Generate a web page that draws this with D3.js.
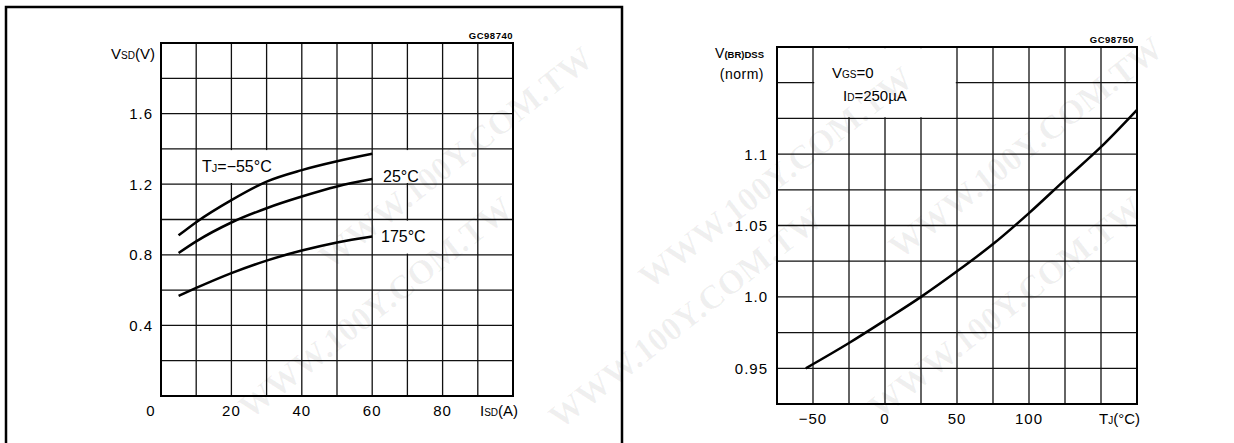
<!DOCTYPE html>
<html>
<head>
<meta charset="utf-8">
<script src="https://cdn.jsdelivr.net/npm/d3@7"></script>
<style>
  html, body { margin: 0; padding: 0; background: #fff; }
  svg { display: block; }
  text { font-family: "Liberation Sans", Arial, sans-serif; fill: #000; }
</style>
</head>
<body>
<script>
// ---- data ----
// left: source-drain diode forward voltage vs current
const isd = [5, 10, 20, 30, 40, 50, 60];
const vsdMinus55 = [0.91, 0.985, 1.11, 1.215, 1.28, 1.33, 1.372];
const vsd25 = [0.81, 0.876, 0.983, 1.064, 1.13, 1.187, 1.229];
const vsd175 = [0.567, 0.612, 0.696, 0.767, 0.824, 0.87, 0.904];
const leftXTicks = [0, 20, 40, 60, 80];
const leftYTicks = [0.4, 0.8, 1.2, 1.6];

// right: normalized breakdown voltage vs temperature
const tj = [-55, -25, 0, 25, 50, 75, 100, 125, 150, 175];
const vbrNorm = [0.95, 0.9677, 0.9836, 1.0, 1.0179, 1.037, 1.0587, 1.082, 1.105, 1.131];
const rightXTicks = [-50, 0, 50, 100];
const rightYTicks = [0.95, 1.0, 1.05, 1.1];

const W = 1234, H = 443;
const svg = d3.select('body').append('svg')
  .attr('width', W).attr('height', H)
  .attr('viewBox', `0 0 ${W} ${H}`);
svg.append('rect').attr('width', W).attr('height', H).attr('fill', '#fff');

// left panel border
svg.append('path').attr('d', 'M6,450 V7 H622 V450')
  .attr('fill', 'none').attr('stroke', '#000').attr('stroke-width', 2.5);

function grid(g, x, y, xs, ys) {
  g.selectAll('line.v').data(xs).join('line').attr('class', 'v')
    .attr('x1', d => x(d)).attr('x2', d => x(d))
    .attr('y1', y.range()[0]).attr('y2', y.range()[1])
    .attr('stroke', '#111').attr('stroke-width', 1.3);
  g.selectAll('line.h').data(ys).join('line').attr('class', 'h')
    .attr('y1', d => y(d)).attr('y2', d => y(d))
    .attr('x1', x.range()[0]).attr('x2', x.range()[1])
    .attr('stroke', '#111').attr('stroke-width', 1.3);
}

function blank(g, x, y, x0, x1, y0, y1) {
  // white patch that hides interior grid lines behind a label
  g.append('rect')
    .attr('x', x(x0) + 1.2).attr('y', y(y1) + 1.2)
    .attr('width', x(x1) - x(x0) - 2.4).attr('height', y(y0) - y(y1) - 2.4)
    .attr('fill', '#fff');
}

// ================= left chart =================
const xL = d3.scaleLinear().domain([0, 100]).range([161, 513]);
const yL = d3.scaleLinear().domain([0, 2]).range([396, 43]);
const gL = svg.append('g');
grid(gL, xL, yL, d3.range(0, 101, 10), d3.range(0, 2.01, 0.2));
blank(gL, xL, yL, 10, 40, 1.2, 1.4);
blank(gL, xL, yL, 60, 80, 1.2, 1.4);
blank(gL, xL, yL, 60, 80, 0.8, 1.0);
gL.append('rect').attr('x', 161).attr('y', 43).attr('width', 352).attr('height', 353)
  .attr('fill', 'none').attr('stroke', '#000').attr('stroke-width', 2);

const lineL = d3.line().x((d, i) => xL(isd[i])).y(d => yL(d)).curve(d3.curveMonotoneX);
[vsdMinus55, vsd25, vsd175].forEach(s => {
  gL.append('path').attr('d', lineL(s)).attr('fill', 'none')
    .attr('stroke', '#000').attr('stroke-width', 2.5);
});

gL.selectAll('text.yt').data(leftYTicks).join('text').attr('class', 'yt')
  .attr('x', 153).attr('y', d => yL(d)).attr('dy', '0.36em')
  .attr('text-anchor', 'end').style('font-size', '15px').style('letter-spacing', '1px')
  .text(d => d.toFixed(1));
gL.selectAll('text.xt').data(leftXTicks).join('text').attr('class', 'xt')
  .attr('x', d => d === 0 ? xL(d) - 10 : xL(d)).attr('y', 416)
  .attr('text-anchor', 'middle').style('font-size', '15px').style('letter-spacing', '1px')
  .text(d => d);

let t = gL.append('text').attr('x', 155).attr('y', 59).attr('text-anchor', 'end')
  .style('font-size', '15px');
t.append('tspan').text('V');
t.append('tspan').style('font-size', '10px').text('SD');
t.append('tspan').text('(V)');

t = gL.append('text').attr('x', 480).attr('y', 416).style('font-size', '15px');
t.append('tspan').text('I');
t.append('tspan').style('font-size', '10px').text('SD');
t.append('tspan').text('(A)');

gL.append('text').attr('x', 513).attr('y', 39).attr('text-anchor', 'end')
  .style('font-size', '9.5px').style('font-weight', 'bold').style('letter-spacing', '0.5px')
  .text('GC98740');

t = gL.append('text').attr('x', 202).attr('y', 172).style('font-size', '16px');
t.append('tspan').text('T');
t.append('tspan').style('font-size', '11px').text('J');
t.append('tspan').text('=−55°C');
gL.append('text').attr('x', 383).attr('y', 182).style('font-size', '16px').text('25°C');
gL.append('text').attr('x', 381).attr('y', 242).style('font-size', '16px').text('175°C');

// ================= right chart =================
const xR = d3.scaleLinear().domain([-75, 175]).range([777, 1137]);
const yR = d3.scaleLinear().domain([0.925, 1.175]).range([404, 47]);
const gR = svg.append('g');
grid(gR, xR, yR, d3.range(-75, 176, 25), d3.range(0, 11).map(i => 0.925 + i * 0.025));
blank(gR, xR, yR, -50, 50, 1.125, 1.175);
gR.append('rect').attr('x', 777).attr('y', 47).attr('width', 360).attr('height', 357)
  .attr('fill', 'none').attr('stroke', '#000').attr('stroke-width', 2);

const lineR = d3.line().x((d, i) => xR(tj[i])).y(d => yR(d)).curve(d3.curveMonotoneX);
gR.append('path').attr('d', lineR(vbrNorm)).attr('fill', 'none')
  .attr('stroke', '#000').attr('stroke-width', 2.5);

gR.selectAll('text.yt').data(rightYTicks).join('text').attr('class', 'yt')
  .attr('x', 768).attr('y', d => yR(d)).attr('dy', '0.36em')
  .attr('text-anchor', 'end').style('font-size', '15px').style('letter-spacing', '1px')
  .text(d => d === 1 ? '1.0' : String(d));
gR.selectAll('text.xt').data(rightXTicks).join('text').attr('class', 'xt')
  .attr('x', d => xR(d)).attr('y', 424)
  .attr('text-anchor', 'middle').style('font-size', '15px').style('letter-spacing', '1px')
  .text(d => String(d).replace('-', '−'));

t = gR.append('text').attr('x', 1099).attr('y', 424).style('font-size', '15px');
t.append('tspan').text('T');
t.append('tspan').style('font-size', '10px').text('J');
t.append('tspan').text('(°C)');

t = gR.append('text').attr('x', 764).attr('y', 58).attr('text-anchor', 'end')
  .style('font-size', '14px');
t.append('tspan').text('V');
t.append('tspan').style('font-size', '9.5px').style('font-weight', 'bold').text('(BR)DSS');
gR.append('text').attr('x', 764).attr('y', 79).attr('text-anchor', 'end')
  .style('font-size', '14px').style('letter-spacing', '0.5px').text('(norm)');

gR.append('text').attr('x', 1134).attr('y', 43).attr('text-anchor', 'end')
  .style('font-size', '9.5px').style('font-weight', 'bold').style('letter-spacing', '0.5px')
  .text('GC98750');

t = gR.append('text').attr('x', 832).attr('y', 78).style('font-size', '15px');
t.append('tspan').text('V');
t.append('tspan').style('font-size', '10px').text('GS');
t.append('tspan').text('=0');
t = gR.append('text').attr('x', 843).attr('y', 101).style('font-size', '15px');
t.append('tspan').text('I');
t.append('tspan').style('font-size', '10px').text('D');
t.append('tspan').text('=250µA');

// faint site watermark laid over everything at low alpha, kept inside the canvas
const wmPos = [[250, 420], [330, 270], [560, 430], [650, 290], [880, 420], [900, 260]];
svg.append('g').attr('pointer-events', 'none')
  .selectAll('text').data(wmPos).join('text')
  .attr('transform', d => `translate(${d[0]},${d[1]}) rotate(-38)`)
  .style('font-family', '"Liberation Serif", serif').style('font-weight', 'bold')
  .style('font-size', '34px').style('fill', '#000').style('fill-opacity', 0.06)
  .text('WWW.100Y.COM.TW');
</script>
</body>
</html>
